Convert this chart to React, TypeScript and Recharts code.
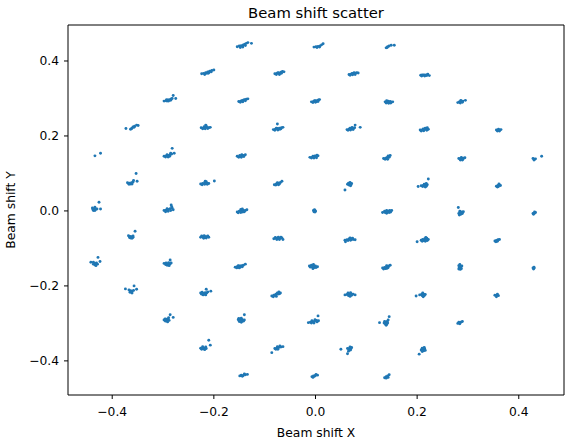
import React from 'react';
import { ScatterChart, Scatter, XAxis, YAxis, ReferenceLine } from 'recharts';

// Beam shift (x, y) samples, grouped by grid row (top to bottom)
const row1: number[][] = [
  [-0.154, 0.438], [-0.150, 0.440], [-0.146, 0.441], [-0.142, 0.443], [-0.139, 0.445], [-0.136, 0.447], [-0.144, 0.439], [-0.133, 0.449], [-0.126, 0.447], [-0.148, 0.436], [-0.143, 0.437], [-0.138, 0.441],
  [-0.003, 0.437], [0.001, 0.438], [0.005, 0.439], [0.009, 0.440], [0.012, 0.443], [0.015, 0.446], [0.003, 0.436], [0.008, 0.437],
  [0.139, 0.435], [0.142, 0.438], [0.145, 0.440], [0.149, 0.442], [0.155, 0.442], [0.141, 0.436],
];
const row2: number[][] = [
  [-0.224, 0.366], [-0.220, 0.367], [-0.216, 0.369], [-0.212, 0.371], [-0.208, 0.373], [-0.204, 0.375], [-0.200, 0.376], [-0.214, 0.367], [-0.209, 0.370], [-0.218, 0.364], [-0.211, 0.367], [-0.205, 0.371],
  [-0.080, 0.366], [-0.076, 0.367], [-0.072, 0.368], [-0.068, 0.370], [-0.065, 0.372], [-0.070, 0.367], [-0.062, 0.371], [-0.074, 0.369], [-0.077, 0.364], [-0.071, 0.364], [-0.067, 0.367],
  [0.066, 0.364], [0.070, 0.365], [0.074, 0.366], [0.078, 0.367], [0.081, 0.369], [0.076, 0.369], [0.084, 0.368], [0.072, 0.367], [0.068, 0.362], [0.073, 0.363], [0.078, 0.364],
  [0.207, 0.362], [0.210, 0.363], [0.214, 0.363], [0.218, 0.363], [0.221, 0.365], [0.224, 0.361], [0.212, 0.362], [0.209, 0.360], [0.215, 0.360], [0.219, 0.361],
];
const row3: number[][] = [
  [-0.298, 0.293], [-0.294, 0.294], [-0.290, 0.296], [-0.287, 0.297], [-0.284, 0.299], [-0.282, 0.300], [-0.280, 0.308], [-0.275, 0.300], [-0.292, 0.293], [-0.289, 0.293], [-0.285, 0.295], [-0.293, 0.297],
  [-0.151, 0.292], [-0.147, 0.293], [-0.143, 0.295], [-0.139, 0.297], [-0.136, 0.298], [-0.133, 0.299], [-0.145, 0.294], [-0.141, 0.296], [-0.148, 0.290], [-0.143, 0.291], [-0.138, 0.294],
  [-0.008, 0.291], [-0.004, 0.292], [0.000, 0.294], [0.004, 0.295], [0.008, 0.297], [0.002, 0.292], [-0.002, 0.294], [0.006, 0.296], [-0.005, 0.289], [0.000, 0.290], [0.005, 0.292],
  [0.137, 0.291], [0.141, 0.290], [0.145, 0.289], [0.149, 0.290], [0.152, 0.291], [0.143, 0.293], [0.147, 0.292], [0.140, 0.294], [0.139, 0.288], [0.144, 0.287], [0.148, 0.288],
  [0.280, 0.289], [0.284, 0.290], [0.287, 0.292], [0.290, 0.293], [0.286, 0.295], [0.295, 0.295], [0.283, 0.291], [0.285, 0.288], [0.289, 0.290],
];
const row4: number[][] = [
  [-0.373, 0.220], [-0.364, 0.218], [-0.361, 0.221], [-0.359, 0.224], [-0.356, 0.226], [-0.352, 0.229], [-0.349, 0.228], [-0.362, 0.219], [-0.357, 0.223],
  [-0.225, 0.222], [-0.221, 0.221], [-0.217, 0.222], [-0.213, 0.223], [-0.210, 0.222], [-0.219, 0.225], [-0.215, 0.227], [-0.216, 0.229], [-0.207, 0.223], [-0.222, 0.219], [-0.217, 0.219], [-0.212, 0.220],
  [-0.083, 0.217], [-0.079, 0.218], [-0.075, 0.220], [-0.071, 0.221], [-0.067, 0.222], [-0.064, 0.223], [-0.075, 0.232], [-0.077, 0.221], [-0.070, 0.218], [-0.080, 0.215], [-0.074, 0.216], [-0.068, 0.219],
  [0.062, 0.217], [0.066, 0.218], [0.070, 0.219], [0.074, 0.220], [0.077, 0.222], [0.078, 0.229], [0.088, 0.223], [0.068, 0.221], [0.064, 0.215], [0.069, 0.216], [0.074, 0.217], [0.072, 0.223],
  [0.206, 0.216], [0.210, 0.216], [0.214, 0.217], [0.218, 0.218], [0.222, 0.218], [0.216, 0.221], [0.220, 0.222], [0.212, 0.219], [0.208, 0.213], [0.213, 0.214], [0.219, 0.215],
  [0.356, 0.216], [0.359, 0.215], [0.362, 0.216], [0.365, 0.217], [0.360, 0.218], [0.358, 0.213], [0.362, 0.213],
];
const row5: number[][] = [
  [-0.434, 0.147], [-0.423, 0.154],
  [-0.298, 0.146], [-0.294, 0.147], [-0.290, 0.148], [-0.286, 0.150], [-0.283, 0.152], [-0.282, 0.167], [-0.278, 0.154], [-0.292, 0.150], [-0.287, 0.146], [-0.295, 0.144], [-0.290, 0.144], [-0.285, 0.154],
  [-0.154, 0.146], [-0.150, 0.145], [-0.146, 0.146], [-0.142, 0.148], [-0.138, 0.150], [-0.145, 0.150], [-0.149, 0.148], [-0.141, 0.145], [-0.151, 0.143], [-0.146, 0.143],
  [-0.011, 0.143], [-0.007, 0.143], [-0.003, 0.144], [0.001, 0.145], [0.005, 0.147], [-0.001, 0.147], [0.003, 0.149], [-0.005, 0.146], [-0.008, 0.141], [-0.003, 0.141], [0.002, 0.142],
  [0.134, 0.140], [0.138, 0.141], [0.141, 0.143], [0.144, 0.145], [0.147, 0.148], [0.140, 0.140], [0.145, 0.143], [0.137, 0.138], [0.142, 0.138], [0.143, 0.147],
  [0.282, 0.140], [0.285, 0.139], [0.288, 0.140], [0.291, 0.141], [0.294, 0.142], [0.287, 0.143], [0.290, 0.138], [0.285, 0.136], [0.289, 0.136],
  [0.428, 0.140], [0.431, 0.138], [0.433, 0.139], [0.445, 0.146], [0.430, 0.136],
];
const row6: number[][] = [
  [-0.370, 0.075], [-0.366, 0.074], [-0.362, 0.075], [-0.359, 0.077], [-0.358, 0.081], [-0.364, 0.072], [-0.353, 0.100], [-0.351, 0.079], [-0.367, 0.071], [-0.361, 0.072],
  [-0.226, 0.072], [-0.222, 0.073], [-0.218, 0.075], [-0.215, 0.078], [-0.213, 0.074], [-0.210, 0.073], [-0.217, 0.079], [-0.199, 0.080], [-0.223, 0.070], [-0.218, 0.071], [-0.213, 0.071],
  [-0.081, 0.070], [-0.077, 0.072], [-0.073, 0.074], [-0.069, 0.076], [-0.066, 0.079], [-0.075, 0.075], [-0.071, 0.072], [-0.078, 0.069], [-0.073, 0.070],
  [0.063, 0.071], [0.067, 0.072], [0.071, 0.073], [0.068, 0.076], [0.066, 0.069], [0.058, 0.056], [0.070, 0.070], [0.065, 0.074], [0.069, 0.067],
  [0.208, 0.067], [0.212, 0.068], [0.216, 0.069], [0.220, 0.070], [0.214, 0.071], [0.218, 0.066], [0.222, 0.085], [0.202, 0.065], [0.211, 0.065], [0.216, 0.064], [0.218, 0.073],
  [0.356, 0.066], [0.359, 0.068], [0.362, 0.069], [0.358, 0.064], [0.361, 0.072], [0.364, 0.068], [0.360, 0.065],
];
const row7: number[][] = [
  [-0.439, 0.008], [-0.436, 0.005], [-0.433, 0.004], [-0.437, 0.001], [-0.434, 0.010], [-0.426, 0.023], [-0.423, 0.005], [-0.430, 0.005], [-0.438, 0.004], [-0.434, 0.001],
  [-0.298, 0.001], [-0.294, 0.002], [-0.290, 0.004], [-0.286, 0.006], [-0.282, 0.008], [-0.292, 0.006], [-0.280, 0.003], [-0.284, 0.016], [-0.295, -0.002], [-0.290, -0.001], [-0.285, 0.001], [-0.283, 0.011],
  [-0.154, -0.003], [-0.150, -0.001], [-0.146, 0.001], [-0.142, 0.002], [-0.138, 0.001], [-0.135, 0.003], [-0.147, 0.004], [-0.152, -0.005], [-0.140, -0.002], [-0.147, -0.004], [-0.143, -0.003], [-0.144, 0.005],
  [-0.004, 0.001], [-0.001, 0.001], [-0.003, -0.002], [0.000, -0.001], [-0.002, 0.003], [-0.001, -0.003],
  [0.132, -0.004], [0.136, -0.001], [0.140, 0.001], [0.144, -0.001], [0.148, -0.003], [0.137, -0.004], [0.145, -0.004], [0.150, 0.001], [0.140, -0.006], [0.141, -0.003], [0.146, 0.001],
  [0.282, -0.007], [0.285, -0.005], [0.288, -0.003], [0.291, -0.002], [0.286, -0.009], [0.281, 0.009], [0.284, -0.001], [0.283, -0.011], [0.289, -0.007],
  [0.428, -0.007], [0.431, -0.006], [0.433, -0.004], [0.429, -0.009], [0.431, -0.003],
];
const row8: number[][] = [
  [-0.368, -0.066], [-0.365, -0.068], [-0.362, -0.069], [-0.359, -0.070], [-0.364, -0.072], [-0.359, -0.067], [-0.355, -0.054], [-0.366, -0.071], [-0.361, -0.073],
  [-0.226, -0.070], [-0.222, -0.069], [-0.218, -0.068], [-0.214, -0.069], [-0.210, -0.070], [-0.220, -0.073], [-0.215, -0.072], [-0.212, -0.067], [-0.224, -0.067], [-0.219, -0.066], [-0.217, -0.071],
  [-0.082, -0.074], [-0.078, -0.073], [-0.074, -0.072], [-0.070, -0.073], [-0.066, -0.072], [-0.064, -0.076], [-0.076, -0.076], [-0.071, -0.076], [-0.079, -0.071], [-0.073, -0.070], [-0.068, -0.070],
  [0.058, -0.078], [0.062, -0.077], [0.066, -0.075], [0.070, -0.074], [0.074, -0.076], [0.078, -0.077], [0.068, -0.072], [0.059, -0.082], [0.064, -0.079], [0.069, -0.078], [0.073, -0.073],
  [0.208, -0.078], [0.211, -0.076], [0.215, -0.074], [0.219, -0.073], [0.222, -0.076], [0.217, -0.078], [0.213, -0.079], [0.220, -0.079], [0.200, -0.082], [0.210, -0.081], [0.216, -0.081], [0.217, -0.071],
  [0.353, -0.080], [0.356, -0.079], [0.359, -0.077], [0.362, -0.076], [0.355, -0.082], [0.358, -0.081],
];
const row9: number[][] = [
  [-0.442, -0.137], [-0.437, -0.137], [-0.434, -0.140], [-0.431, -0.139], [-0.434, -0.144], [-0.428, -0.124], [-0.424, -0.135], [-0.429, -0.142], [-0.437, -0.142], [-0.432, -0.146],
  [-0.298, -0.140], [-0.294, -0.139], [-0.290, -0.141], [-0.287, -0.142], [-0.292, -0.145], [-0.288, -0.146], [-0.284, -0.139], [-0.286, -0.131], [-0.295, -0.143], [-0.289, -0.138],
  [-0.158, -0.150], [-0.154, -0.149], [-0.150, -0.147], [-0.146, -0.146], [-0.142, -0.145], [-0.138, -0.142], [-0.152, -0.146], [-0.148, -0.150], [-0.155, -0.152], [-0.150, -0.152], [-0.144, -0.149],
  [-0.012, -0.147], [-0.008, -0.145], [-0.004, -0.146], [0.000, -0.147], [0.004, -0.149], [-0.006, -0.150], [-0.002, -0.151], [-0.005, -0.154], [-0.010, -0.150], [0.001, -0.151], [-0.004, -0.143],
  [0.132, -0.152], [0.136, -0.151], [0.140, -0.149], [0.144, -0.147], [0.147, -0.145], [0.138, -0.154], [0.143, -0.151], [0.134, -0.155], [0.141, -0.153], [0.140, -0.146],
  [0.282, -0.146], [0.285, -0.148], [0.283, -0.151], [0.286, -0.152], [0.282, -0.155], [0.285, -0.156], [0.288, -0.147], [0.284, -0.143], [0.287, -0.154],
  [0.428, -0.152], [0.430, -0.153], [0.429, -0.155], [0.430, -0.150],
];
const row10: number[][] = [
  [-0.374, -0.208], [-0.367, -0.211], [-0.364, -0.213], [-0.361, -0.214], [-0.365, -0.217], [-0.361, -0.219], [-0.357, -0.200], [-0.352, -0.209], [-0.363, -0.216], [-0.358, -0.212],
  [-0.226, -0.219], [-0.223, -0.217], [-0.220, -0.220], [-0.217, -0.218], [-0.214, -0.219], [-0.224, -0.222], [-0.218, -0.222], [-0.215, -0.209], [-0.206, -0.214], [-0.221, -0.224], [-0.216, -0.224], [-0.212, -0.216],
  [-0.086, -0.227], [-0.082, -0.225], [-0.078, -0.222], [-0.075, -0.219], [-0.072, -0.216], [-0.069, -0.219], [-0.079, -0.226], [-0.074, -0.222], [-0.083, -0.229], [-0.077, -0.228], [-0.071, -0.221],
  [0.058, -0.224], [0.062, -0.223], [0.066, -0.222], [0.070, -0.221], [0.074, -0.222], [0.078, -0.224], [0.065, -0.226], [0.071, -0.225], [0.064, -0.219], [0.069, -0.218], [0.068, -0.228],
  [0.205, -0.224], [0.209, -0.222], [0.213, -0.222], [0.216, -0.223], [0.210, -0.226], [0.214, -0.226], [0.198, -0.227], [0.211, -0.219], [0.212, -0.229],
  [0.353, -0.225], [0.357, -0.225], [0.360, -0.226], [0.356, -0.229], [0.358, -0.222],
];
const row11: number[][] = [
  [-0.298, -0.291], [-0.294, -0.289], [-0.290, -0.288], [-0.292, -0.293], [-0.288, -0.292], [-0.295, -0.294], [-0.286, -0.277], [-0.280, -0.284], [-0.296, -0.288], [-0.291, -0.296], [-0.289, -0.285],
  [-0.152, -0.290], [-0.148, -0.289], [-0.144, -0.290], [-0.140, -0.291], [-0.146, -0.294], [-0.150, -0.295], [-0.142, -0.294], [-0.140, -0.277], [-0.151, -0.287], [-0.146, -0.286], [-0.146, -0.297],
  [-0.014, -0.298], [-0.010, -0.297], [-0.006, -0.296], [-0.002, -0.294], [0.002, -0.292], [0.006, -0.293], [-0.008, -0.299], [0.005, -0.280], [-0.003, -0.299], [-0.007, -0.293], [-0.001, -0.290], [0.003, -0.296],
  [0.126, -0.298], [0.135, -0.299], [0.138, -0.297], [0.141, -0.295], [0.137, -0.301], [0.140, -0.302], [0.145, -0.282], [0.143, -0.291], [0.136, -0.295], [0.139, -0.305], [0.142, -0.299],
  [0.280, -0.300], [0.283, -0.299], [0.286, -0.297], [0.289, -0.295], [0.284, -0.301], [0.282, -0.297],
];
const row12: number[][] = [
  [-0.226, -0.366], [-0.222, -0.365], [-0.218, -0.366], [-0.215, -0.367], [-0.220, -0.368], [-0.224, -0.369], [-0.210, -0.345], [-0.207, -0.358], [-0.222, -0.362], [-0.218, -0.370], [-0.216, -0.363],
  [-0.080, -0.367], [-0.076, -0.366], [-0.072, -0.364], [-0.068, -0.363], [-0.064, -0.362], [-0.078, -0.369], [-0.086, -0.378], [-0.074, -0.369], [-0.070, -0.360], [-0.075, -0.362],
  [0.063, -0.367], [0.067, -0.366], [0.070, -0.367], [0.066, -0.370], [0.069, -0.371], [0.050, -0.369], [0.063, -0.381], [0.068, -0.363], [0.065, -0.374], [0.071, -0.364],
  [0.208, -0.371], [0.212, -0.369], [0.215, -0.368], [0.210, -0.366], [0.213, -0.373], [0.216, -0.372], [0.204, -0.382], [0.214, -0.364], [0.210, -0.375],
];
const row13: number[][] = [
  [-0.149, -0.440], [-0.146, -0.438], [-0.142, -0.439], [-0.138, -0.437], [-0.134, -0.436], [-0.144, -0.441], [-0.140, -0.435],
  [-0.007, -0.442], [-0.004, -0.440], [0.000, -0.439], [0.004, -0.438], [-0.002, -0.441], [0.001, -0.436], [-0.005, -0.444],
  [0.136, -0.445], [0.139, -0.442], [0.142, -0.440], [0.145, -0.437], [0.143, -0.444], [0.139, -0.446],
];

const xTicks = [-0.4, -0.2, 0, 0.2, 0.4];
const yTicks = [-0.4, -0.2, 0, 0.2, 0.4];
const xDomain = [-0.487, 0.489];
const yDomain = [-0.491, 0.496];

const titleText = 'Beam shift scatter';
const xLabelText = 'Beam shift X';
const yLabelText = 'Beam shift Y';

const allRows = [row1, row2, row3, row4, row5, row6, row7, row8, row9, row10, row11, row12, row13];
const data = allRows.flat().map(([x, y]) => ({ x, y }));

const COLOR = '#1f77b4';
const FONT = 'DejaVu Sans';

const fmt = (v: number) => (v < 0 ? '\u2212' : '') + Math.abs(v).toFixed(1);

const Dot = (props: any) => {
  const { cx, cy } = props;
  if (cx == null || cy == null) return null;
  return <circle cx={cx} cy={cy} r={1.45} fill={COLOR} />;
};

export default function App() {
  const W = 569;
  const H = 443;
  const plotLeft = 68;
  const plotRight = 564;
  const plotTop = 25;
  const plotBottom = 395;
  const tickStyle = { fill: '#000', fontSize: 12.3, fontFamily: FONT };
  return (
    <div style={{ position: 'absolute', left: 0, top: 0, width: W, height: H, background: '#fff' }}>
      <ScatterChart width={W} height={H} margin={{ top: plotTop, right: W - plotRight, bottom: 0, left: 0 }}>
        <XAxis
          type="number"
          dataKey="x"
          domain={xDomain}
          allowDataOverflow
          ticks={xTicks}
          interval={0}
          tickFormatter={fmt}
          height={H - plotBottom}
          tickSize={4}
          tickMargin={8}
          stroke="#000"
          tick={tickStyle}
        />
        <YAxis
          type="number"
          dataKey="y"
          domain={yDomain}
          allowDataOverflow
          ticks={yTicks}
          interval={0}
          tickFormatter={fmt}
          width={plotLeft}
          tickSize={4}
          tickMargin={5}
          stroke="#000"
          tick={tickStyle}
        />
        <ReferenceLine y={yDomain[1]} stroke="#000" ifOverflow="visible" />
        <ReferenceLine x={xDomain[1]} stroke="#000" ifOverflow="visible" />
        <Scatter data={data} fill={COLOR} shape={Dot} isAnimationActive={false} />
      </ScatterChart>
      <svg
        width={W}
        height={H}
        style={{ position: 'absolute', left: 0, top: 0, pointerEvents: 'none' }}
      >
        <text x={(plotLeft + plotRight) / 2} y={18} textAnchor="middle" fontFamily={FONT} fontSize={14.8} fill="#000">
          {titleText}
        </text>
        <text x={(plotLeft + plotRight) / 2} y={437} textAnchor="middle" fontFamily={FONT} fontSize={12.3} fill="#000">
          {xLabelText}
        </text>
        <text
          x={15}
          y={(plotTop + plotBottom) / 2}
          textAnchor="middle"
          fontFamily={FONT}
          fontSize={12.3}
          fill="#000"
          transform={`rotate(-90, 15, ${(plotTop + plotBottom) / 2})`}
        >
          {yLabelText}
        </text>
      </svg>
    </div>
  );
}
